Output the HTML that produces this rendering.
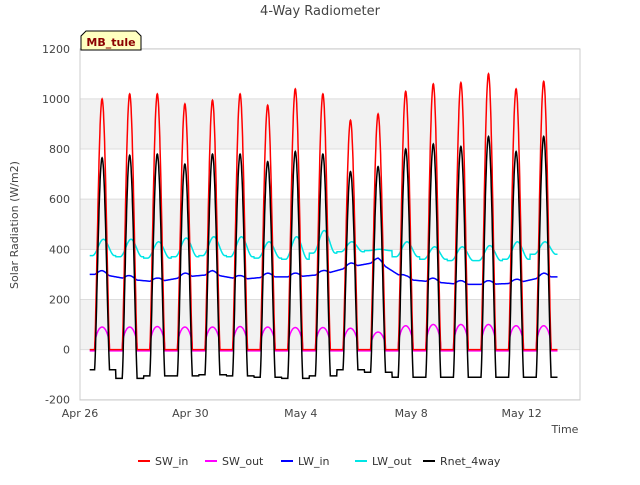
<!DOCTYPE html>
<html><head><meta charset="utf-8"><style>
body{margin:0;background:#fff;font-family:"Liberation Sans","DejaVu Sans",sans-serif;}
svg text{font-family:"DejaVu Sans","Liberation Sans",sans-serif;}
</style></head><body>
<svg id="c" width="640" height="480" xmlns="http://www.w3.org/2000/svg">
<rect width="640" height="480" fill="#fff"/>
<text x="320" y="15" text-anchor="middle" font-size="13" fill="#444">4-Way Radiometer</text>
<g id="bands"></g><g id="grid"></g>
<rect x="80" y="49" width="500" height="351" fill="none" stroke="#ccc"/>
<g id="yt"></g><g id="xt"></g>
<text transform="translate(18,225) rotate(-90)" text-anchor="middle" font-size="11" fill="#444">Solar Radiation (W/m2)</text>
<text x="565" y="433" text-anchor="middle" font-size="11" fill="#444">Time</text>
<g id="series"></g>
<g><path d="M81,50 L81,36 L86,31 L136,31 L141,36 L141,50 Z" fill="#ffffc0" stroke="#000"/><text x="111" y="46" text-anchor="middle" font-size="11" font-weight="bold" fill="#8b0000">MB_tule</text></g>
<g id="legend"></g>
</svg>
<script>
const yTicks=[-200,0,200,400,600,800,1000,1200];
const xTickLabels=["Apr 26","Apr 30","May 4","May 8","May 12"];
const xTickDays=[0,4,8,12,16];
const swInPeak=[1000,1020,1020,980,995,1020,975,1040,1020,915,940,1030,1060,1065,1100,1040,1070];
const rnetPeak=[765,775,780,740,780,780,750,790,780,710,730,800,820,810,850,790,850];
const rnetNight=[-80,-115,-105,-105,-100,-105,-110,-115,-105,-80,-90,-110,-110,-110,-110,-110,-110];
const swOutPeak=[90,90,92,90,90,92,90,88,88,85,70,95,100,100,100,95,95];
const lwInLevel=[300,280,270,290,300,280,290,290,300,330,350,280,270,260,260,265,290];
const lwOutMin=[375,370,365,370,375,370,365,360,385,390,395,370,360,355,355,360,380];
const lwOutPeak=[440,440,430,445,450,450,430,450,475,430,400,430,410,410,415,430,430];
const ns="http://www.w3.org/2000/svg";
const X=d=>80+d*27.6, Y=v=>349.6-v*0.2507;
const svg=document.getElementById('c');
function el(t,a,p){const e=document.createElementNS(ns,t);for(const k in a)e.setAttribute(k,a[k]);p.appendChild(e);return e;}
[[800,1000],[400,600],[0,200]].forEach(b=>{const r=el('rect',{x:80,y:Y(b[1]),width:500,height:Y(b[0])-Y(b[1]),fill:'#f2f2f2'},document.getElementById('bands'));

});
yTicks.forEach(v=>{const l=el('line',{x1:80,x2:580,y1:Y(v),y2:Y(v),stroke:'#ddd'},document.getElementById('grid'));


const t=el('text',{x:70,y:Y(v)+4,'text-anchor':'end','font-size':11,fill:'#444'},document.getElementById('yt'));t.textContent=v;

});
xTickLabels.forEach((s,i)=>{const t=el('text',{x:X(xTickDays[i]),y:417,'text-anchor':'middle','font-size':11,fill:'#444'},document.getElementById('xt'));t.textContent=s;

});
function pts(fn){const p=[];for(let t=0.35;t<=17.3;t+=0.01){const d=Math.min(16,Math.max(0,Math.floor(t-0.3)));const ph=t-(d+0.8);const s=Math.abs(ph)<0.27?Math.pow(Math.cos(ph/0.27*Math.PI/2),1.3):0;p.push(X(t).toFixed(1)+','+Y(fn(d,s,ph,t)).toFixed(1));}return p.join(' ');}
function lwIn(t){const u=Math.min(16,Math.max(0,t-0.8));const i=Math.min(15,Math.floor(u));const f=u-i;return lwInLevel[i]*(1-f)+lwInLevel[i+1]*f;}
const series=[
['SW_in','#ff0000',(d,s)=>swInPeak[d]*s],
['SW_out','#ff00ff',(d,s)=>s>0?swOutPeak[d]*Math.pow(s,0.35):-5],
['LW_in','#0000ff',(d,s,ph,t)=>lwIn(t)+15*s],
['LW_out','#00e5e5',(d,s,ph)=>lwOutMin[d]+(lwOutPeak[d]-lwOutMin[d])*Math.pow(Math.max(0,Math.cos((ph-0.05)/0.4*Math.PI/2)),2)*(Math.abs(ph-0.05)<0.4?1:0)],
['Rnet_4way','#000000',(d,s)=>rnetNight[d]+(rnetPeak[d]-rnetNight[d])*s]];
const g=document.getElementById('series'),lg=document.getElementById('legend');
const order=[2,3,1,0,4];
order.forEach(i=>{const [n,c,f]=series[i];const pl=el('polyline',{points:pts(f),fill:'none',stroke:c,'stroke-width':1.5},g);

});
const lx=[140,207,283,357,425];
series.forEach(([n,c],i)=>{const gg=el('g',{},lg);


el('line',{x1:lx[i]-2,x2:lx[i]+10,y1:461,y2:461,stroke:c,'stroke-width':2},gg);
const t=el('text',{x:lx[i]+15,y:465,'font-size':11,fill:'#333'},gg);t.textContent=n;});
</script>
</body></html>
